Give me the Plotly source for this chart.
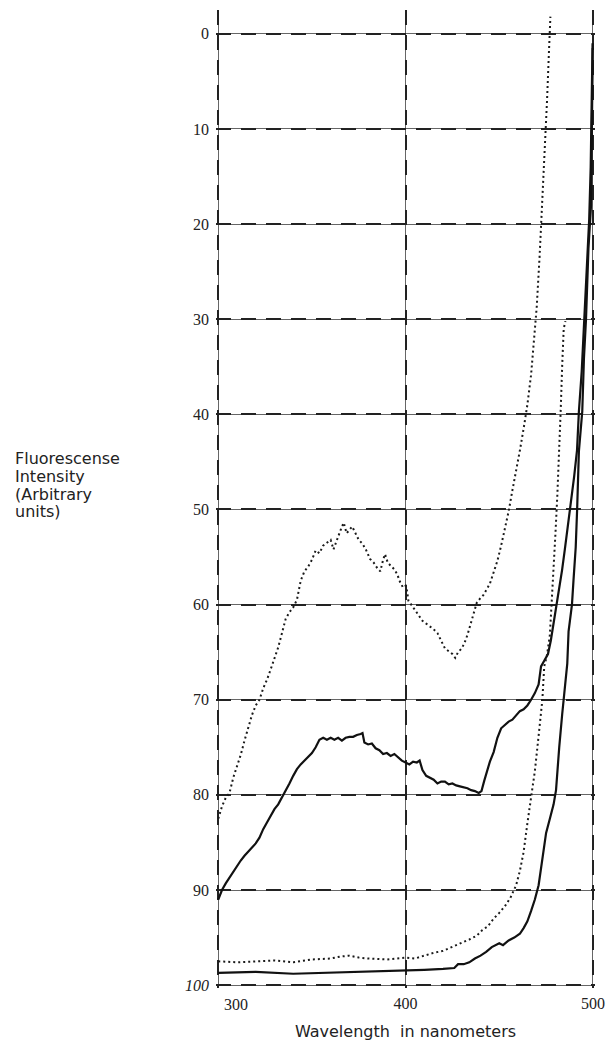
import plotly.graph_objects as go

# ---------------- data ----------------
# Upper dotted curve
a_wl = [300, 302, 304, 306, 308, 310, 312, 314, 316, 318, 320, 322, 324, 326, 328, 330, 332, 334, 336, 338,
        340, 342, 344, 346, 348, 350, 352, 354, 356, 358, 360, 361.5, 363, 364.5, 366, 367, 368.5, 370, 371.5,
        373, 375, 377, 379, 381, 383, 385, 386.5, 388, 389, 390.5, 392, 394, 395.5, 397, 398.6, 400, 400.8,
        401.5, 403, 405, 407, 409, 411, 413, 415, 417, 419, 421, 423, 425, 426.5, 428, 430, 431.5, 433, 434.5,
        436, 438, 440, 441.5, 443, 445, 447, 449, 451, 453, 455, 457, 459, 461, 463, 465, 467, 468.5, 470,
        471.5, 473, 474.5, 475.5, 476.5, 477.3]
a_val = [82.5, 81.2, 80.3, 79.8, 78.2, 77.0, 75.8, 74.3, 72.8, 71.6, 70.6, 70.0, 68.8, 67.9, 66.8, 65.6, 64.5,
         63.0, 61.5, 60.8, 60.3, 59.5, 57.5, 56.5, 56.0, 55.3, 54.3, 54.6, 53.8, 53.5, 53.2, 54.2, 53.3, 52.6,
         51.8, 51.4, 52.5, 52.2, 51.8, 52.4, 53.2, 53.6, 54.3, 55.2, 55.6, 56.2, 56.5, 55.3, 54.7, 55.6, 55.9,
         56.3, 56.8, 57.6, 58.2, 58.0, 58.6, 59.6, 60.0, 60.6, 61.2, 61.7, 62.0, 62.3, 62.6, 63.0, 63.8, 64.6,
         64.9, 65.2, 65.6, 65.0, 64.6, 64.0, 63.2, 62.2, 61.2, 59.8, 59.3, 59.0, 58.5, 57.8, 56.6, 55.4, 53.8,
         52.0, 50.2, 48.0, 46.0, 43.8, 41.5, 39.0, 35.8, 32.5, 28.7, 23.5, 17.5, 12.0, 7.0, 2.0, -1.8]

# Upper solid curve
b_wl = [300, 302, 304, 306, 308, 310, 312, 314, 316, 318, 320, 322, 324, 326, 328, 330, 332, 334, 336, 338,
        340, 342, 344, 346, 348, 350, 352, 354, 356, 358, 360, 362, 364, 366, 368, 370, 372, 374, 376, 377,
        378, 380, 382, 384, 386, 388, 390, 392, 394, 396, 398, 400, 402, 404, 406, 407.5, 409, 411, 413, 415,
        417, 419, 421, 423, 425, 427, 429, 431, 433, 435, 437, 439, 440.5, 442, 443.5, 445, 447, 449, 451,
        453, 455, 457, 459, 461, 463, 465, 467, 469, 471, 472.3, 474, 476, 477.5, 479, 480.5, 482, 483.5,
        485, 486.5, 488, 490, 491.5, 492.5, 494, 495, 496, 497, 498, 498.8, 499.3, 499.6, 499.8]
b_val = [91.0, 90.0, 89.3, 88.7, 88.0, 87.5, 86.9, 86.4, 86.0, 85.6, 85.1, 84.5, 83.6, 82.9, 82.2, 81.5, 81.0,
         80.3, 79.6, 78.8, 78.0, 77.3, 76.8, 76.4, 76.1, 75.6, 75.0, 74.2, 74.0, 74.2, 74.0, 74.2, 74.0, 74.3,
         74.0, 73.9, 73.9, 73.7, 73.6, 73.5, 74.5, 74.7, 74.6, 75.1, 75.3, 75.7, 75.6, 75.9, 75.7, 76.1, 76.4,
         76.6, 76.8, 76.5, 76.6, 76.4, 77.4, 78.0, 78.2, 78.4, 78.8, 78.6, 78.6, 78.9, 78.8, 79.0, 79.1, 79.2,
         79.3, 79.5, 79.6, 79.8, 79.6, 78.5, 77.5, 76.5, 75.5, 74.0, 73.0, 72.6, 72.3, 72.1, 71.7, 71.2, 71.0,
         70.6, 70.0, 69.3, 68.4, 66.5, 65.9, 65.2, 63.8, 62.0, 60.2, 58.6, 56.4, 54.2, 52.0, 49.6, 46.5, 43.8,
         39.7, 35.5, 31.3, 27.5, 23.0, 19.5, 14.0, 8.0, 3.0, 1.0]

# Lower dotted curve
c_wl = [300, 310, 320, 330, 340, 350, 360, 365, 370, 375, 380, 390, 400, 405, 410, 415, 420, 425, 430, 434,
        438, 441, 444, 447, 450, 453, 456, 459, 461, 463, 465, 467, 469, 471, 473, 474, 475.5, 477, 478, 479,
        480, 481, 482, 482.8, 483.6, 484.4, 485.3]
c_val = [97.5, 97.6, 97.5, 97.4, 97.6, 97.3, 97.2, 97.0, 96.9, 97.1, 97.2, 97.3, 97.1, 97.2, 96.9, 96.6, 96.4,
         96.0, 95.6, 95.2, 94.8, 94.2, 93.8, 93.0, 92.4, 91.7, 90.8, 89.5, 88.0, 86.0, 83.0, 80.0, 77.5, 73.8,
         70.0, 66.5, 65.3, 63.2, 60.0, 56.5, 52.5, 48.5, 44.0, 39.5, 34.8, 31.0, 30.2]

# Lower solid curve
d_wl = [300, 320, 340, 360, 380, 400, 410, 420, 426, 428, 431, 434, 437, 440, 443, 446, 448, 450, 452, 455,
        458, 461, 463, 465, 467, 469, 471, 473, 475, 477, 479, 480.3, 481, 482, 483.6, 485.3, 486.3, 487,
        488.8, 489.6, 490.8, 491.6, 492.5, 494.3, 495.2, 496.3, 496.8, 497.6, 499.0, 499.4, 499.7, 499.9]
d_val = [98.7, 98.6, 98.8, 98.7, 98.6, 98.5, 98.4, 98.3, 98.2, 97.8, 97.8, 97.6, 97.2, 96.9, 96.5, 96.0, 95.8,
         95.6, 95.8, 95.3, 95.0, 94.6, 94.0, 93.3, 92.2, 91.0, 89.5, 86.5, 84.0, 82.5, 81.0, 79.5, 78.0, 75.0,
         71.5, 68.0, 66.2, 62.8, 60.0, 57.5, 54.0, 49.8, 43.9, 39.7, 34.1, 30.0, 26.1, 22.6, 18.0, 10.0, 4.0, 1.5]

y_ticks = [0, 10, 20, 30, 40, 50, 60, 70, 80, 90, 100]
y_ticktext = ["0", "10", "20", "30", "40", "50", "60", "70", "80", "90", "<i>100</i>"]
x_grid = [300, 400, 500]
x_ticktext = ["", "400", "500"]
y_title_lines = ["Fluorescense", "Intensity", "(Arbitrary", "units)"]

# ---------------- figure ----------------
fig = go.Figure()

dot_style = dict(color="#1a1a1a", width=2, dash="2px,3px")
solid_style = dict(color="#111111", width=2.2)

fig.add_trace(go.Scatter(x=a_wl, y=a_val, mode="lines", line=dot_style, showlegend=False))
fig.add_trace(go.Scatter(x=b_wl, y=b_val, mode="lines", line=solid_style, showlegend=False))
fig.add_trace(go.Scatter(x=c_wl, y=c_val, mode="lines", line=dot_style, showlegend=False))
fig.add_trace(go.Scatter(x=d_wl, y=d_val, mode="lines", line=solid_style, showlegend=False))
# empty trace so the overlay grid subplot is created
fig.add_trace(go.Scatter(x=[], y=[], xaxis="x2", yaxis="y2", showlegend=False, hoverinfo="skip"))

x_range = [298.8, 501.1]
y_range = [100.3, -2.5]
tick_font = dict(family="Liberation Serif", size=16, color="#222")

fig.update_layout(
    width=615, height=1047,
    margin=dict(l=216, r=15, t=10, b=55),
    paper_bgcolor="white", plot_bgcolor="white",
    xaxis=dict(range=x_range, tickvals=x_grid, ticktext=x_ticktext, showgrid=True,
               gridcolor="#666", gridwidth=1, zeroline=False, showline=False, ticks="",
               tickfont=tick_font, ticklabelstandoff=4,
               title=dict(text="Wavelength  in nanometers", standoff=14,
                          font=dict(family="DejaVu Sans", size=16, color="#222"))),
    yaxis=dict(range=y_range, tickvals=y_ticks, ticktext=y_ticktext, showgrid=True,
               gridcolor="#666", gridwidth=1, zeroline=False, showline=False, ticks="",
               tickfont=tick_font, ticklabelstandoff=6),
    xaxis2=dict(range=x_range, overlaying="x", matches="x", tickvals=x_grid, showticklabels=False,
                showgrid=True, gridcolor="#222", gridwidth=1.6, griddash="15px,10px",
                zeroline=False, showline=False, ticks=""),
    yaxis2=dict(range=y_range, overlaying="y", matches="y", tickvals=y_ticks, showticklabels=False,
                showgrid=True, gridcolor="#222", gridwidth=1.6, griddash="15px,10px",
                zeroline=False, showline=False, ticks=""),
)

# "300" label sits just right of the left edge, as in the original
fig.add_annotation(x=300, xref="x", y=0, yref="paper", yshift=-6, xanchor="left", yanchor="top",
                   xshift=4, text="300", showarrow=False, font=tick_font)

# y-axis title, one annotation per line for the tighter line spacing of the original
for i, line in enumerate(y_title_lines):
    fig.add_annotation(x=8, xref="paper", xanchor="left", y=0, yref="paper", yanchor="middle",
                       showarrow=False, text=line, align="left",
                       font=dict(family="DejaVu Sans", size=16, color="#222"))
# place them in pixel terms relative to the plot area
plot_h = 1047 - 10 - 55
plot_w = 615 - 216 - 15
centers_px = [460, 478, 496, 514]
for ann, cy in zip(fig.layout.annotations[1:], centers_px):
    ann.x = (10 - 216) / plot_w
    ann.y = 1 - (cy - 10) / plot_h

fig.write_html("out.html")
